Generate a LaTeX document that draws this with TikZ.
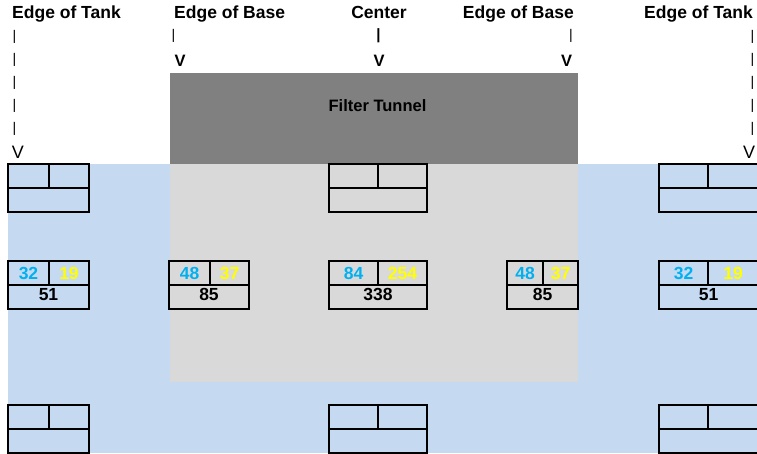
\documentclass[tikz,border=0pt]{standalone}
\usepackage{fontspec}
\setmainfont{Liberation Sans}
\usetikzlibrary{positioning}

\definecolor{tankblue}{HTML}{C5D9F1}
\definecolor{basegray}{HTML}{D9D9D9}
\definecolor{tunnelgray}{HTML}{808080}
\definecolor{inflow}{HTML}{00B0F0}
\definecolor{outflow}{HTML}{FFFF00}

\begin{document}
\begin{tikzpicture}[x=1pt, y=-1pt,
  head/.style={inner sep=0, font=\bfseries\fontsize{17.5}{20}\selectfont},
  bar/.style={inner sep=0, font=\fontsize{14}{16}\selectfont},
  barbold/.style={inner sep=0, font=\bfseries\fontsize{15}{17}\selectfont},
  tip/.style={inner sep=0, font=\fontsize{18}{20}\selectfont},
  tipbold/.style={inner sep=0, font=\bfseries\fontsize{16.5}{18}\selectfont},
  cell/.style={line width=2.3pt},
  num/.style={inner sep=0, anchor=base, font=\bfseries\fontsize{17.5}{20}\selectfont}]

  \clip (0,0) rectangle (757,453);

  % tank water, base area and filter tunnel
  \fill[tankblue] (8,164) rectangle (757,453);
  \fill[basegray] (170,164) rectangle (578,382);
  \fill[tunnelgray] (170,73) rectangle (578,164);
  \node[head, anchor=base, font=\bfseries\fontsize{16.5}{18}\selectfont] (tunnel) at (377.5,111) {Filter Tunnel};

  % headings
  \node[head, anchor=base west] (tank-l) at (12,18) {Edge of Tank};
  \node[head, anchor=base west] (base-l) at (174,18) {Edge of Base};
  \node[head, anchor=base] (center) at (379,18) {Center};
  \node[head, anchor=base east] (base-r) at (574,18) {Edge of Base};
  \node[head, anchor=base east] (tank-r) at (753,18) {Edge of Tank};

  % markers under the headings
  \foreach \y [count=\k] in {37,60,83,106,129}{
    \node[bar] (tank-l-bar\k) at (14.5,\y) {|};
    \node[bar] (tank-r-bar\k) at (752.5,\y) {|};
  }
  \node[tip] (tank-l-v) at (18,152) {V};
  \node[tip] (tank-r-v) at (749,152) {V};
  \node[bar] (base-l-bar) at (173.5,36) {|};
  \node[tipbold] (base-l-v) at (180,61) {V};
  \node[bar] (base-r-bar) at (571,36) {|};
  \node[tipbold] (base-r-v) at (566.5,61) {V};
  \node[barbold] (center-bar) at (378.5,36) {|};
  \node[tipbold] (center-v) at (379,61) {V};

  % empty boxes
  \foreach \xa/\xm/\xb/\ya in {8/49/89/164, 329/378/427/164, 659/708/758/164,
                               8/49/89/405, 329/378/427/405, 659/708/758/405}{
    \draw[cell] (\xa,\ya) rectangle (\xb,\ya+48)
      (\xa,\ya+24) -- (\xb,\ya+24) (\xm,\ya) -- (\xm,\ya+25);
  }

  % boxes with counts
  \foreach \xa/\xm/\xb/\nin/\nout/\ntot/\id in {8/49/89/32/19/51/tank-l, 169/210/249/48/37/85/base-l,
      329/378/427/84/254/338/center, 507/543/578/48/37/85/base-r, 659/708/758/32/19/51/tank-r}{
    \draw[cell] (\xa,261) rectangle (\xb,309)
      (\xa,285) -- (\xb,285) (\xm,261) -- (\xm,285);
    \node[num, text=inflow] (\id-in) at ({(\xa+\xm)/2},279) {\nin};
    \node[num, text=outflow] (\id-out) at ({(\xm+\xb)/2},279) {\nout};
    \node[num] (\id-sum) at ({(\xa+\xb)/2},300) {\ntot};
  }

\end{tikzpicture}
\end{document}
